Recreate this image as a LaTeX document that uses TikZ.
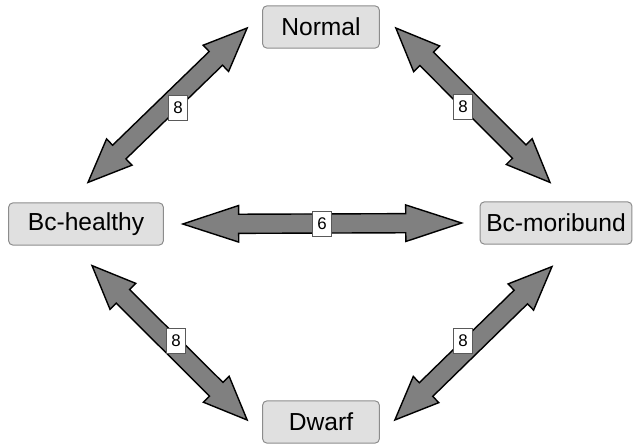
\documentclass[tikz,border=0pt]{standalone}
\usepackage{fontspec}
\setmainfont{Liberation Sans}
\usetikzlibrary{calc}

\tikzset{
	state/.style={draw=black!45, fill=black!12, rounded corners=3pt, line width=0.7pt,
		inner xsep=4pt, minimum height=30pt, font=\fontsize{17.5}{20}\selectfont},
	count/.style={draw=black!65, fill=white, line width=0.5pt, inner sep=0pt,
		minimum width=14pt, minimum height=17.5pt, font=\fontsize{12}{14}\selectfont},
	fat/.style={fill=black!50, draw=black, line width=1pt, line join=miter},
}

% fat double-headed arrow between two named points
\newcommand{\fatarrow}[3][31pt]{%
	\coordinate (t1) at ($(#2)!#1!(#3)$);
	\coordinate (t2) at ($(#3)!#1!(#2)$);
	\filldraw[fat] (#2) -- ($(t1)!13pt!90:(#3)$) -- ($(t1)!6.8pt!90:(#3)$)
		-- ($(t2)!6.8pt!-90:(#2)$) -- ($(t2)!13pt!-90:(#2)$) -- (#3)
		-- ($(t2)!13pt!90:(#2)$) -- ($(t2)!6.8pt!90:(#2)$)
		-- ($(t1)!6.8pt!-90:(#3)$) -- ($(t1)!13pt!-90:(#3)$) -- cycle;
}

\begin{document}
\begin{tikzpicture}[x=0.025cm, y=-0.025cm]
	\useasboundingbox (0,0) rectangle (633,445);
	\node[state, minimum width=83pt] (normal) at (321,27) {Normal};
	\node[state, minimum width=110pt] (healthy) at (86,224) {Bc-healthy};
	\node[state, minimum width=108pt] (moribund) at (556,223) {Bc-moribund};
	\node[state, minimum width=83pt] (dwarf) at (321,422) {Dwarf};
	% arrow ends
	\coordinate (nl) at ([shift={(-15,1)}]normal.west);
	\coordinate (nr) at ([shift={(16,1)}]normal.east);
	\coordinate (ht) at ([shift={(2,-20)}]healthy.north);
	\coordinate (hb) at ([shift={(6,20)}]healthy.south);
	\coordinate (he) at ([shift={(19,0)}]healthy.east);
	\coordinate (mt) at ([shift={(-6,-19)}]moribund.north);
	\coordinate (mb) at ([shift={(-4,22)}]moribund.south);
	\coordinate (mw) at ([shift={(-18,0)}]moribund.west);
	\coordinate (dl) at ([shift={(-15,-2)}]dwarf.west);
	\coordinate (dr) at ([shift={(15,-2)}]dwarf.east);
	\fatarrow{nl}{ht}
	\fatarrow{nr}{mt}
	\fatarrow{hb}{dl}
	\fatarrow{mb}{dr}
	\fatarrow[39.7pt]{he}{mw}
	\node[count] (w1) at (178,108) {8};
	\node[count] (w2) at (463,107) {8};
	\node[count] (w3) at (176,341) {8};
	\node[count] (w4) at (463,341) {8};
	\node[count] (w5) at (322,224) {6};
\end{tikzpicture}
\end{document}
